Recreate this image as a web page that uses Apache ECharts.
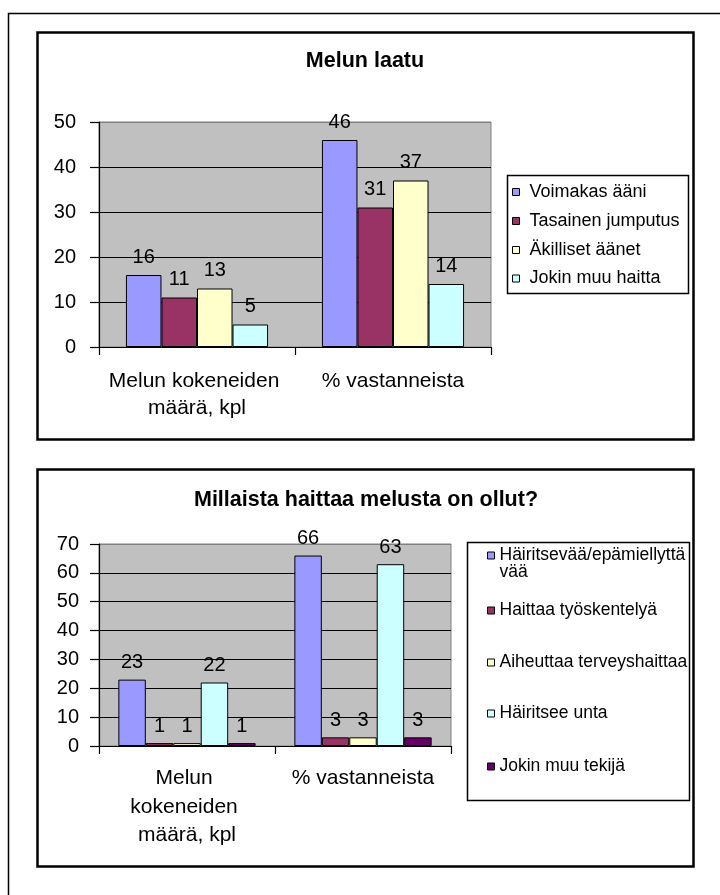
<!DOCTYPE html>
<html>
<head>
<meta charset="utf-8">
<script src="https://cdn.jsdelivr.net/npm/echarts@6/dist/echarts.min.js"></script>
<style>
  html, body { margin: 0; padding: 0; background: #fff; }
  #chart { width: 720px; height: 895px; }
</style>
</head>
<body>
<div id="chart"></div>
<script>
// Shared categories of both charts
const categories = ['Melun kokeneiden määrä, kpl', '% vastanneista'];

// "Melun laatu"
const qualityTitle = 'Melun laatu';
const qualityNames = ['Voimakas ääni', 'Tasainen jumputus', 'Äkilliset äänet', 'Jokin muu haitta'];
const voimakasAani = [16, 46];
const tasainenJumputus = [11, 31];
const akillisetAanet = [13, 37];
const jokinMuuHaitta = [5, 14];
const qualityTicks = [0, 10, 20, 30, 40, 50];

// "Millaista haittaa melusta on ollut?"
const harmTitle = 'Millaista haittaa melusta on ollut?';
const harmNames = ['Häiritsevää/epämiellyttävää', 'Haittaa työskentelyä', 'Aiheuttaa terveyshaittaa', 'Häiritsee unta', 'Jokin muu tekijä'];
const hairitsevaa = [23, 66];
const haittaaTyoskentelya = [1, 3];
const aiheuttaaTerveyshaittaa = [1, 3];
const hairitseeUnta = [22, 63];
const jokinMuuTekija = [1, 3];
const harmTicks = [0, 10, 20, 30, 40, 50, 60, 70];

const qualityValues = [voimakasAani, tasainenJumputus, akillisetAanet, jokinMuuHaitta];
const harmValues = [hairitsevaa, haittaaTyoskentelya, aiheuttaaTerveyshaittaa, hairitseeUnta, jokinMuuTekija];

const palette = ['#9999FF', '#993366', '#FFFFCC', '#CCFFFF', '#660066'];
const FONT = '"Liberation Sans", Arial, Helvetica, sans-serif';

function valueAxis(gridIndex, ticks, margin) {
  const colors = ticks.map((t, i) => (i === ticks.length - 1 ? '#808080' : '#000000'));
  return {
    type: 'value', gridIndex,
    min: ticks[0], max: ticks[ticks.length - 1], interval: ticks[1] - ticks[0],
    axisLine: { show: true, lineStyle: { color: '#000', width: 1.2 } },
    axisTick: { show: true, length: 9, lineStyle: { color: '#000', width: 1.2 } },
    axisLabel: { color: '#000', fontSize: 20, fontFamily: FONT, margin },
    splitLine: { show: true, lineStyle: { color: colors, width: 1.2 } }
  };
}

function categoryAxis(gridIndex, opts) {
  return {
    type: 'category', gridIndex, data: categories,
    axisLine: { show: true, lineStyle: { color: '#000', width: 1.2 } },
    axisTick: { show: true, length: 8, lineStyle: { color: '#000', width: 1.2 } },
    axisLabel: Object.assign({
      color: '#000', fontSize: 21, fontFamily: FONT, interval: 0,
      overflow: 'break', align: 'center'
    }, opts)
  };
}

function barSeries(names, values, axisIndex, gap, dist) {
  return names.map((name, i) => ({
    type: 'bar', name, data: values[i],
    xAxisIndex: axisIndex, yAxisIndex: axisIndex,
    barGap: '0%', barCategoryGap: gap,
    itemStyle: { color: palette[i], borderColor: '#000', borderWidth: 1 },
    label: { show: true, position: 'top', distance: dist, color: '#000', fontSize: 20, fontFamily: FONT },
    emphasis: { disabled: true }
  }));
}

const legendBase = {
  orient: 'vertical', padding: 0, itemGap: 0, icon: 'rect',
  itemWidth: 7, itemHeight: 7, selectedMode: false,
  itemStyle: { borderColor: '#000', borderWidth: 1 }
};

// Long legend names wrap after this many characters; the marker stays on the first line
const LEGEND_WRAP = 24;
function wrapLegend(name) {
  if (name.length <= LEGEND_WRAP) return name;
  return '\n' + name.slice(0, LEGEND_WRAP) + '\n' + name.slice(LEGEND_WRAP);
}

// Legend entries placed one by one
const qualityLegendCenters = [192, 221, 250, 278.5];
const harmLegendCenters = [555, 610, 662, 713, 766];

const legends = [];
qualityNames.forEach((name, i) => {
  legends.push(Object.assign({}, legendBase, {
    data: [name], left: 512, top: qualityLegendCenters[i] - 9,
    textStyle: { color: '#000', fontSize: 18, fontFamily: FONT, lineHeight: 18, padding: [0, 0, 0, 5] }
  }));
});
harmNames.forEach((name, i) => {
  const wrapped = name.length > LEGEND_WRAP;
  legends.push(Object.assign({}, legendBase, {
    data: [name], left: 487,
    top: wrapped ? harmLegendCenters[i] - 8.5 - 17 : harmLegendCenters[i] - 8.5,
    formatter: wrapLegend,
    textStyle: { color: '#000', fontSize: 17.5, fontFamily: FONT, lineHeight: 17 }
  }));
});

const frame = (x, y, w, h, lw) => ({
  type: 'rect', silent: true, z: 100,
  shape: { x, y, width: w, height: h },
  style: { fill: 'none', stroke: '#000', lineWidth: lw }
});

const titleText = (text, x, y) => ({
  type: 'text', silent: true, z: 100, x, y,
  style: { text, fill: '#000', font: 'bold 21.5px ' + FONT, align: 'center', verticalAlign: 'middle' }
});

const option = {
  animation: false,
  backgroundColor: '#fff',
  graphic: [
    frame(8.5, 13.5, 740, 900, 1.5),
    frame(37.5, 32.5, 656, 407, 2.5),
    frame(37.5, 469.5, 656, 397, 2.5),
    frame(507.5, 175.5, 181, 118, 1.5),
    frame(467.5, 542.5, 222, 258, 1.5),
    titleText(qualityTitle, 365, 61),
    titleText(harmTitle, 366, 500)
  ],
  legend: legends,
  grid: [
    { left: 99, top: 122, width: 392, height: 225, show: true, backgroundColor: '#C0C0C0', borderColor: '#808080', borderWidth: 1 },
    { left: 99, top: 544, width: 352, height: 202, show: true, backgroundColor: '#C0C0C0', borderColor: '#808080', borderWidth: 1 }
  ],
  xAxis: [
    categoryAxis(0, { width: 190, lineHeight: 27, margin: 21 }),
    categoryAxis(1, { width: 165, lineHeight: 28.5, margin: 18 })
  ],
  yAxis: [
    valueAxis(0, qualityTicks, 23),
    valueAxis(1, harmTicks, 20)
  ],
  series: [
    ...barSeries(qualityNames, qualityValues, 0, '27.5%', 8),
    ...barSeries(harmNames, harmValues, 1, '22%', 7)
  ]
};

const chart = echarts.init(document.getElementById('chart'), null, { renderer: 'canvas' });
chart.setOption(option);
</script>
</body>
</html>
